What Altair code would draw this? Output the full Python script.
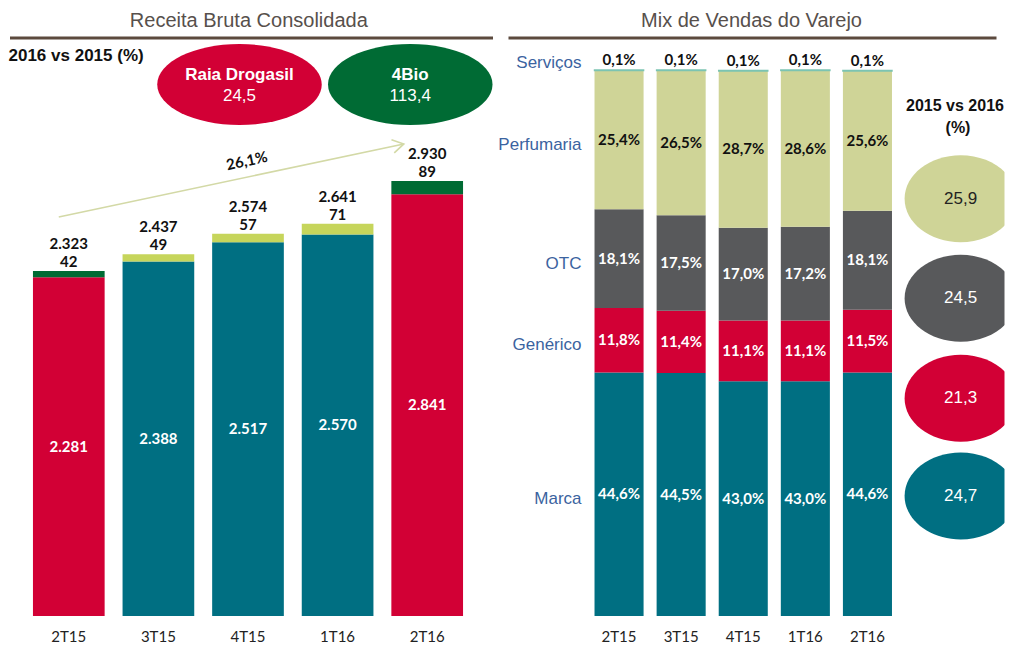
import altair as alt
import pandas as pd

# ---------------- data ----------------
quarters = ["2T15", "3T15", "4T15", "1T16", "2T16"]

# Receita Bruta Consolidada (R$ milhões)
base_values = [2281, 2388, 2517, 2570, 2841]
top_values = [42, 49, 57, 71, 89]
totals = [2323, 2437, 2574, 2641, 2930]
highlight = [True, False, False, False, True]

growth_label = "26,1%"
company_names = ["Raia Drogasil", "4Bio"]
company_growth = [24.5, 113.4]

# Mix de Vendas do Varejo (%)
mix_categories = ["Marca", "Genérico", "OTC", "Perfumaria", "Serviços"]
mix_marca = [44.6, 44.5, 43.0, 43.0, 44.6]
mix_generico = [11.8, 11.4, 11.1, 11.1, 11.5]
mix_otc = [18.1, 17.5, 17.0, 17.2, 18.1]
mix_perfumaria = [25.4, 26.5, 28.7, 28.6, 25.6]
mix_servicos = [0.1, 0.1, 0.1, 0.1, 0.1]

growth_categories = ["Perfumaria", "OTC", "Genérico", "Marca"]
growth_values = [25.9, 24.5, 21.3, 24.7]

# ---------------- styles / layout ----------------
RED = "#D20035"
TEAL = "#006F82"
DKGREEN = "#006B34"
LIME = "#C6D55B"
KHAKI = "#CFD497"
GRAY = "#58595B"
SERV = "#7CC4B2"
BLUE = "#3B63A0"
NUMFONT = "Lato"
TXTFONT = "Liberation Sans"

CAT_COLOR = {"Marca": TEAL, "Genérico": RED, "OTC": GRAY, "Perfumaria": KHAKI, "Serviços": SERV}
COMPANY_COLOR = {"Raia Drogasil": RED, "4Bio": DKGREEN}

LEFT_W, RIGHT_W, H = 448, 416.5, 546
LEFT_YMAX = 3677

# annotation layout (data units of each panel)
arrow_start = (-0.112, 2687)
arrow_end = (3.739, 3179)
growth_pos = (1.987, 3064)
company_x = [1.905, 3.811]
company_y = 3579
mix_ellipse_x = 5.5
mix_ellipse_y = [76.4, 58.2, 39.9, 22.0]


def ellipse_path(r):
    k = 0.5523
    return (f"M -1 0 C -1 {-k*r:.4f} {-k:.4f} {-r:.4f} 0 {-r:.4f} "
            f"C {k:.4f} {-r:.4f} 1 {-k*r:.4f} 1 0 "
            f"C 1 {k*r:.4f} {k:.4f} {r:.4f} 0 {r:.4f} "
            f"C {-k:.4f} {r:.4f} -1 {k*r:.4f} -1 0 Z")


def br_int(v):
    return f"{v:,}".replace(",", ".")


def br_pct(v):
    return f"{v:.1f}%".replace(".", ",")


def one(text):
    return alt.Chart(pd.DataFrame({"t": [text]}))


axis_x = alt.Axis(title=None, labelAngle=0, domain=False, ticks=False, labelPadding=13,
                  labelFontSize=15, labelFont=NUMFONT, labelColor="#222")

# ---------------- left panel ----------------
rows = []
for q, b, t, tot, h in zip(quarters, base_values, top_values, totals, highlight):
    rows.append(dict(quarter=q, y0=0, y1=b, part="base", hex=RED if h else TEAL,
                     mid=b / 2, label=br_int(b)))
    rows.append(dict(quarter=q, y0=b, y1=tot, part="top", hex=DKGREEN if h else LIME,
                     mid=(b + tot) / 2, label=str(t)))
df_left = pd.DataFrame(rows)
df_tot = pd.DataFrame(dict(quarter=quarters, total=totals,
                           tot_label=[br_int(v) for v in totals],
                           top_label=[str(v) for v in top_values]))

lscale = alt.Scale(paddingInner=0.2, paddingOuter=0.1)
ly = alt.Scale(domain=[0, LEFT_YMAX], nice=False, zero=True)
llin = alt.Scale(domain=[-0.5, 4.5], nice=False, zero=False)

bars_l = alt.Chart(df_left).mark_bar().encode(
    x=alt.X("quarter:N", sort=quarters, scale=lscale, axis=axis_x),
    y=alt.Y("y0:Q", scale=ly, axis=None),
    y2="y1:Q",
    color=alt.Color("hex:N", scale=None),
)
base_lbl = alt.Chart(df_left[df_left.part == "base"]).mark_text(
    font=NUMFONT, fontWeight="bold", fontSize=15, color="white").encode(
    x=alt.X("quarter:N", sort=quarters, scale=lscale, axis=None),
    y=alt.Y("mid:Q", scale=ly, axis=None), text="label:N")
top_lbl = alt.Chart(df_tot).mark_text(
    font=NUMFONT, fontWeight="bold", fontSize=15, color="#111", dy=-9).encode(
    x=alt.X("quarter:N", sort=quarters, scale=lscale, axis=None),
    y=alt.Y("total:Q", scale=ly, axis=None), text="top_label:N")
tot_lbl = alt.Chart(df_tot).mark_text(
    font=NUMFONT, fontWeight="bold", fontSize=15, color="#111", dy=-27).encode(
    x=alt.X("quarter:N", sort=quarters, scale=lscale, axis=None),
    y=alt.Y("total:Q", scale=ly, axis=None), text="tot_label:N")

arrow_df = pd.DataFrame(dict(x=[arrow_start[0]], x2=[arrow_end[0]],
                             y=[arrow_start[1]], y2=[arrow_end[1]]))
arrow = alt.Chart(arrow_df).mark_rule(color="#D3D9A6", strokeWidth=1.6).encode(
    x=alt.X("x:Q", scale=llin, axis=None), x2="x2:Q",
    y=alt.Y("y:Q", scale=ly, axis=None), y2="y2:Q")
head = alt.Chart(pd.DataFrame(dict(x=[arrow_end[0]], y=[arrow_end[1]]))).mark_point(
    shape="M -1 -0.6 L 0 0 L -1 0.6", filled=False, stroke="#D3D9A6", strokeWidth=1.6,
    size=500, angle=348, opacity=1).encode(
    x=alt.X("x:Q", scale=llin, axis=None), y=alt.Y("y:Q", scale=ly, axis=None))
growth = alt.Chart(pd.DataFrame(dict(x=[growth_pos[0]], y=[growth_pos[1]], t=[growth_label]))).mark_text(
    font=NUMFONT, fontWeight="bold", fontSize=15, color="#111", angle=348).encode(
    x=alt.X("x:Q", scale=llin, axis=None), y=alt.Y("y:Q", scale=ly, axis=None), text="t:N")

comp_df = pd.DataFrame(dict(name=company_names, val=[f"{v:.1f}".replace(".", ",") for v in company_growth],
                            x=company_x, y=[company_y] * 2,
                            hex=[COMPANY_COLOR[n] for n in company_names]))
comp_ell = alt.Chart(comp_df).mark_point(shape=ellipse_path(81 / 164.5), filled=True, opacity=1,
                                         size=164.5 ** 2, strokeWidth=0).encode(
    x=alt.X("x:Q", scale=llin, axis=None), y=alt.Y("y:Q", scale=ly, axis=None),
    color=alt.Color("hex:N", scale=None))
comp_name = alt.Chart(comp_df).mark_text(font=TXTFONT, fontWeight="bold", fontSize=17,
                                         color="white", dy=-10).encode(
    x=alt.X("x:Q", scale=llin, axis=None), y=alt.Y("y:Q", scale=ly, axis=None), text="name:N")
comp_val = alt.Chart(comp_df).mark_text(font=TXTFONT, fontSize=17, color="white", dy=11).encode(
    x=alt.X("x:Q", scale=llin, axis=None), y=alt.Y("y:Q", scale=ly, axis=None), text="val:N")

title_l = one("Receita Bruta Consolidada").mark_text(font=TXTFONT, fontSize=20, color="#57504C").encode(
    x=alt.value(224.8), y=alt.value(-49), text="t:N")
line_l = one("").mark_rule(color="#5C4A3E", strokeWidth=3).encode(
    x=alt.value(-14), x2=alt.value(469), y=alt.value(-32))
head_l = one("2016 vs 2015 (%)").mark_text(font=TXTFONT, fontWeight="bold", fontSize=17,
                                          color="#111", align="left").encode(
    x=alt.value(-15.5), y=alt.value(-14), text="t:N")

left = alt.layer(bars_l, base_lbl, top_lbl, tot_lbl, arrow, head, growth,
                 comp_ell, comp_name, comp_val, title_l, line_l, head_l
                 ).resolve_scale(x="independent").properties(width=LEFT_W, height=H)

# ---------------- right panel ----------------
mix_series = [mix_marca, mix_generico, mix_otc, mix_perfumaria, mix_servicos]
rrows = []
for qi, q in enumerate(quarters):
    acc = 0.0
    for cat, ser in zip(mix_categories, mix_series):
        v = ser[qi]
        rrows.append(dict(quarter=q, cat=cat, y0=acc, y1=acc + v, mid=acc + v / 2,
                          label=br_pct(v), hex=CAT_COLOR[cat]))
        acc += v
df_mix = pd.DataFrame(rrows)

rscale = alt.Scale(paddingInner=0.21, paddingOuter=0.105, range=[0, 310.5])
ry = alt.Scale(domain=[0, 100], nice=False, zero=True)
rlin = alt.Scale(domain=[-0.5, 4.5], range=[0, 310.5], nice=False, zero=False)

rx_axis = alt.X("quarter:N", sort=quarters, scale=rscale, axis=axis_x)
rx = alt.X("quarter:N", sort=quarters, scale=rscale, axis=None)

bars_r = alt.Chart(df_mix[df_mix.cat != "Serviços"]).mark_bar().encode(
    x=rx_axis, y=alt.Y("y0:Q", scale=ry, axis=None), y2="y1:Q",
    color=alt.Color("hex:N", scale=None))
serv_bar = alt.Chart(df_mix[df_mix.cat == "Serviços"]).mark_bar(stroke=SERV, strokeWidth=1.5, color=SERV).encode(
    x=rx, y=alt.Y("y0:Q", scale=ry, axis=None), y2="y1:Q")

white_lbl = alt.Chart(df_mix[df_mix.cat.isin(["Marca", "Genérico", "OTC"])]).mark_text(
    font=NUMFONT, fontWeight="bold", fontSize=15, color="white").encode(
    x=rx, y=alt.Y("mid:Q", scale=ry, axis=None), text="label:N")
perf_lbl = alt.Chart(df_mix[df_mix.cat == "Perfumaria"]).mark_text(
    font=NUMFONT, fontWeight="bold", fontSize=15, color="#111").encode(
    x=rx, y=alt.Y("mid:Q", scale=ry, axis=None), text="label:N")
serv_lbl = alt.Chart(df_mix[df_mix.cat == "Serviços"]).mark_text(
    font=NUMFONT, fontWeight="bold", fontSize=15, color="#111", dy=-10).encode(
    x=rx, y=alt.Y("y1:Q", scale=ry, axis=None), text="label:N")

first = df_mix[df_mix.quarter == quarters[0]]
cat_lbl = alt.Chart(first[first.cat != "Serviços"]).mark_text(
    font=TXTFONT, fontSize=17, color=BLUE, align="right", dy=5).encode(
    x=alt.value(-6.5), y=alt.Y("mid:Q", scale=ry, axis=None), text="cat:N")
serv_cat = alt.Chart(first[first.cat == "Serviços"]).mark_text(
    font=TXTFONT, fontSize=17, color=BLUE, align="right", dy=-7).encode(
    x=alt.value(-6.5), y=alt.Y("y1:Q", scale=ry, axis=None), text="cat:N")

g_df = pd.DataFrame(dict(cat=growth_categories,
                         val=[f"{v:.1f}".replace(".", ",") for v in growth_values],
                         x=[mix_ellipse_x] * 4, y=mix_ellipse_y,
                         hex=[CAT_COLOR[c] for c in growth_categories],
                         txt=["#222" if c == "Perfumaria" else "white" for c in growth_categories]))
g_ell = alt.Chart(g_df).mark_point(shape=ellipse_path(87 / 112), filled=True, opacity=1,
                                   size=112 ** 2, strokeWidth=0, clip=True).encode(
    x=alt.X("x:Q", scale=rlin, axis=None), y=alt.Y("y:Q", scale=ry, axis=None),
    color=alt.Color("hex:N", scale=None))
g_val = alt.Chart(g_df).mark_text(font=TXTFONT, fontSize=17).encode(
    x=alt.X("x:Q", scale=rlin, axis=None), y=alt.Y("y:Q", scale=ry, axis=None), text="val:N",
    color=alt.Color("txt:N", scale=None))

title_r = one("Mix de Vendas do Varejo").mark_text(font=TXTFONT, fontSize=20, color="#57504C").encode(
    x=alt.value(163.5), y=alt.value(-49), text="t:N")
line_r = one("").mark_rule(color="#5C4A3E", strokeWidth=3).encode(
    x=alt.value(-79.5), x2=alt.value(408.5), y=alt.value(-32))
head_r1 = one("2015 vs 2016").mark_text(font=TXTFONT, fontWeight="bold", fontSize=16,
                                        color="#111").encode(
    x=alt.value(367), y=alt.value(36), text="t:N")
head_r2 = one("(%)").mark_text(font=TXTFONT, fontWeight="bold", fontSize=16, color="#111").encode(
    x=alt.value(370), y=alt.value(58), text="t:N")

right = alt.layer(bars_r, serv_bar, white_lbl, perf_lbl, serv_lbl, cat_lbl, serv_cat,
                  g_ell, g_val, title_r, line_r, head_r1, head_r2
                  ).resolve_scale(x="independent").properties(width=RIGHT_W, height=H)

chart = alt.hconcat(left, right, spacing=116, bounds="flush").properties(
    padding={"left": 0, "top": 3, "right": 0, "bottom": 0}
).configure(background="white").configure_view(stroke=None, strokeWidth=0)

chart.save("out.html", embed_options={"renderer": "svg", "actions": False})
